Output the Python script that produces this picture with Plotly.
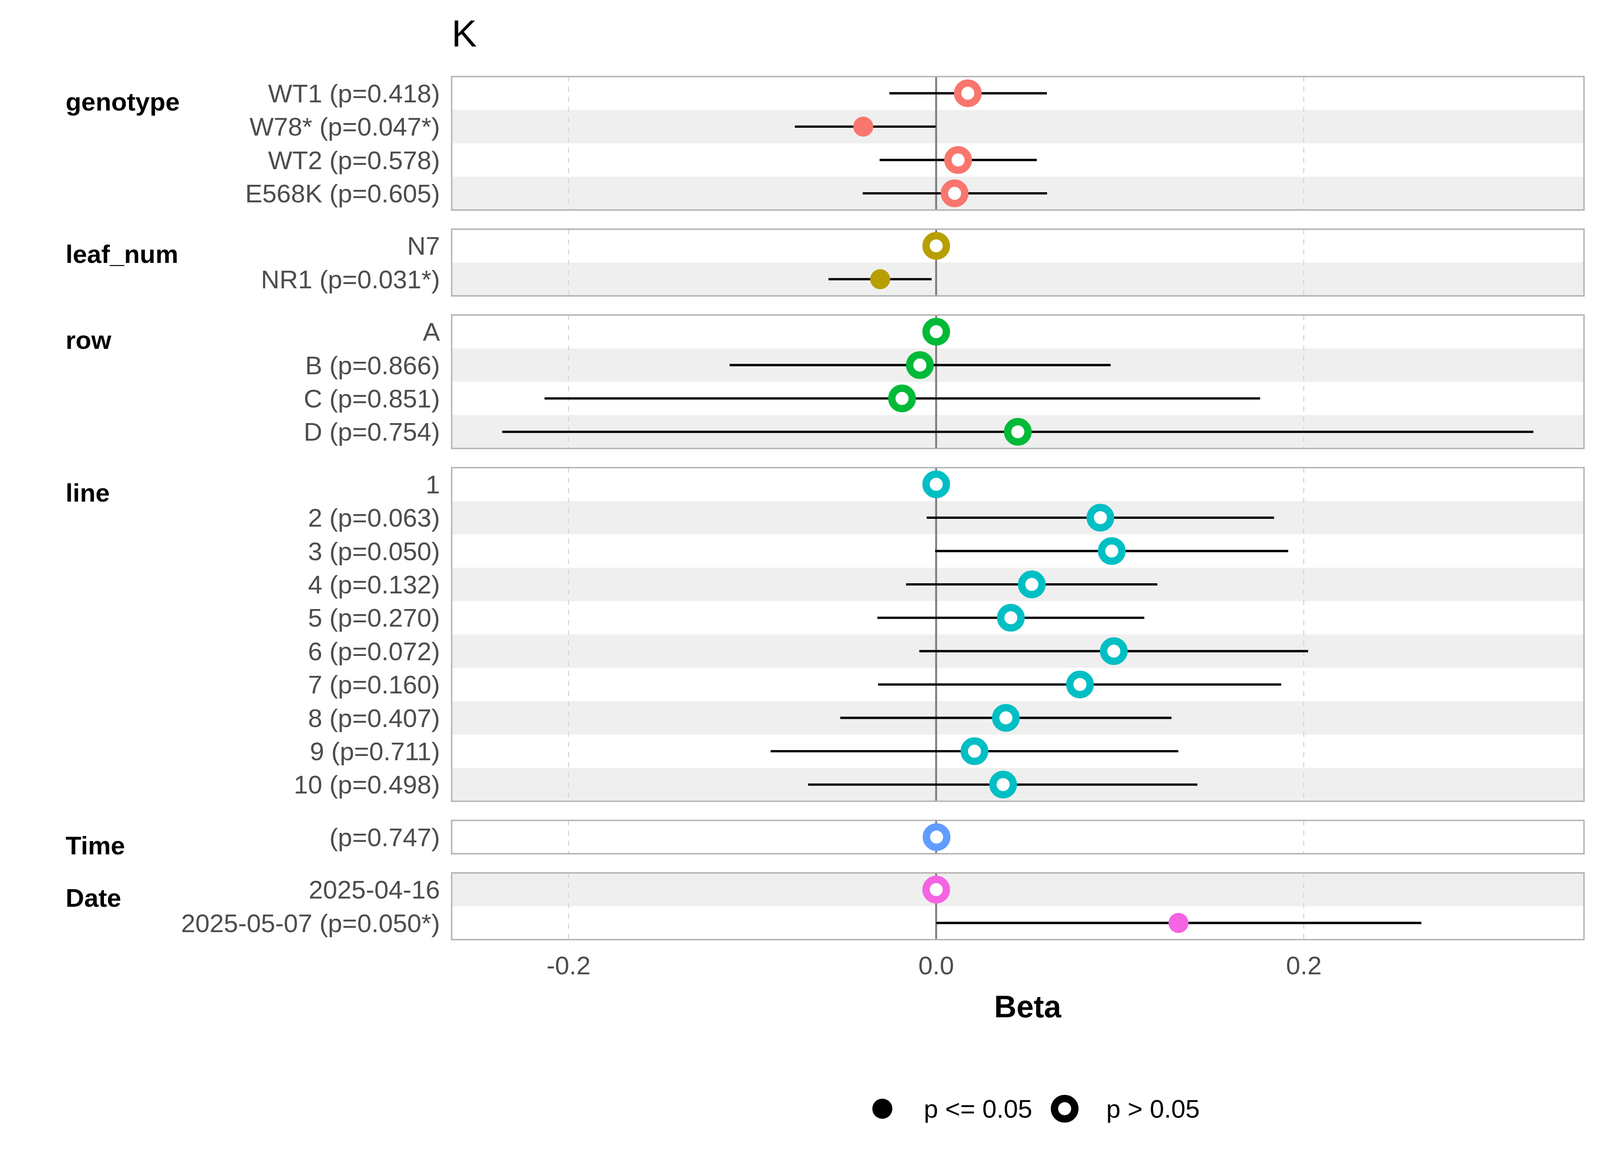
import plotly.graph_objects as go

# ---- data ----
GROUPS = ["genotype", "leaf_num", "row", "line", "Time", "Date"]
GROUP_COLORS = ["#F8766D", "#B79F00", "#00BA38", "#00BFC4", "#619CFF", "#F564E3"]

genotype_levels = ["WT1", "W78*", "WT2", "E568K"]
genotype_beta = [0.0172, -0.0397, 0.0119, 0.0100]
genotype_lo = [-0.0255, -0.0769, -0.0308, -0.0400]
genotype_hi = [0.0602, -0.0003, 0.0547, 0.0603]
genotype_p = [0.418, 0.047, 0.578, 0.605]

leaf_levels = ["N7", "NR1"]
leaf_beta = [0.0, -0.0305]
leaf_lo = [0.0, -0.0586]
leaf_hi = [0.0, -0.0025]
leaf_p = [None, 0.031]

row_levels = ["A", "B", "C", "D"]
row_beta = [0.0, -0.0089, -0.0186, 0.0444]
row_lo = [0.0, -0.1124, -0.2131, -0.2361]
row_hi = [0.0, 0.0949, 0.1762, 0.3249]
row_p = [None, 0.866, 0.851, 0.754]

line_levels = ["1", "2", "3", "4", "5", "6", "7", "8", "9", "10"]
line_beta = [0.0, 0.0893, 0.0955, 0.0520, 0.0406, 0.0966, 0.0782, 0.0379, 0.0208, 0.0364]
line_lo = [0.0, -0.0052, -0.0006, -0.0164, -0.0320, -0.0092, -0.0316, -0.0522, -0.0901, -0.0697]
line_hi = [0.0, 0.1838, 0.1915, 0.1203, 0.1132, 0.2023, 0.1877, 0.1280, 0.1317, 0.1421]
line_p = [None, 0.063, 0.0503, 0.132, 0.270, 0.072, 0.160, 0.407, 0.711, 0.498]

time_levels = [""]
time_beta = [0.0002]
time_lo = [-0.0003]
time_hi = [0.0007]
time_p = [0.747]

date_levels = ["2025-04-16", "2025-05-07"]
date_beta = [0.0, 0.1318]
date_lo = [0.0, 0.0]
date_hi = [0.0, 0.2639]
date_p = [None, 0.0497]

X_RANGE = [-0.2636, 0.3524]
X_TICKS = [-0.2, 0.0, 0.2]
X_TICK_LABELS = ["-0.2", "0.0", "0.2"]
LEGEND_LABELS = ["p <= 0.05", "p > 0.05"]

panels = [
    (genotype_levels, genotype_beta, genotype_lo, genotype_hi, genotype_p),
    (leaf_levels, leaf_beta, leaf_lo, leaf_hi, leaf_p),
    (row_levels, row_beta, row_lo, row_hi, row_p),
    (line_levels, line_beta, line_lo, line_hi, line_p),
    (time_levels, time_beta, time_lo, time_hi, time_p),
    (date_levels, date_beta, date_lo, date_hi, date_p),
]

# ---- layout geometry: positions in reference pixels of a 4800x3000 canvas,
# converted to paper fractions so the figure fills the window ----
W, H = 4800, 3000
SC = 0.9  # size factor for fonts / markers / line widths
FONT = "Liberation Sans, Arial, sans-serif"
PANEL_L, PANEL_R = 1355, 4752
PANEL_TOP = 196
ROW_H = 85.4
GAP = 49
OPEN_SIZE, OPEN_LINE = 58 * SC, 21 * SC
FILLED_SIZE = 57 * SC
TXT = 73 * SC


def fx(px):
    return px / W


def fy(py):
    return 1 - py / H


def suffix(k):
    return "" if k == 1 else str(k)


def make_label(name, p):
    if p is None:
        return name
    star = "*" if p <= 0.05 else ""
    return f"{name} (p={p:.3f}{star})".strip()


fig = go.Figure()
shapes = []
annotations = []

top = PANEL_TOP
global_row = 0
for k, (levels, beta, lo, hi, pvals) in enumerate(panels, start=1):
    n = len(levels)
    bottom = top + n * ROW_H
    labels = [make_label(nm, p) for nm, p in zip(levels, pvals)]
    sig = [p is not None and p <= 0.05 for p in pvals]
    color = GROUP_COLORS[k - 1]
    s = suffix(k)

    fig.add_trace(go.Scatter(
        x=beta, y=labels, mode="markers",
        xaxis=f"x{s}", yaxis=f"y{s}", showlegend=False,
        error_x=dict(type="data", symmetric=False,
                     array=[h - b for h, b in zip(hi, beta)],
                     arrayminus=[b - l for b, l in zip(beta, lo)],
                     color="black", thickness=6.5 * SC, width=0),
        marker=dict(
            symbol="circle", opacity=1,
            size=[FILLED_SIZE if q else OPEN_SIZE for q in sig],
            color=[color if q else "white" for q in sig],
            line=dict(color=color, width=[0 if q else OPEN_LINE for q in sig]),
        ),
    ))

    xa = dict(
        domain=[fx(PANEL_L), fx(PANEL_R)], anchor=f"y{s}", range=X_RANGE,
        tickmode="array", tickvals=X_TICKS, ticktext=X_TICK_LABELS,
        showticklabels=(k == len(panels)),
        ticks="", ticklabelstandoff=22,
        tickfont=dict(family=FONT, size=TXT, color="#4d4d4d"),
        showgrid=True, gridcolor="#d9d9d9", gridwidth=3 * SC, griddash="13px,13px",
        zeroline=True, zerolinecolor="#808080", zerolinewidth=5.5 * SC,
        showline=False,
    )
    if k > 1:
        xa["matches"] = "x"
    fig.layout[f"xaxis{s}"] = xa
    fig.layout[f"yaxis{s}"] = dict(
        domain=[fy(bottom), fy(top)], anchor=f"x{s}", type="category",
        categoryorder="array", categoryarray=labels, range=[n - 0.5, -0.5],
        tickmode="array", tickvals=labels, ticktext=labels,
        showgrid=False, zeroline=False, showline=False, ticks="",
        ticklabelstandoff=29,
        tickfont=dict(family=FONT, size=TXT, color="#4d4d4d"),
    )

    # alternating stripes, counted over all rows
    for i in range(n):
        if global_row % 2 == 1:
            shapes.append(dict(type="rect", xref=f"x{s} domain", yref=f"y{s}",
                               x0=0, x1=1, y0=i - 0.5, y1=i + 0.5,
                               fillcolor="#EFEFEF", line=dict(width=0), layer="below"))
        global_row += 1

    shapes.append(dict(type="rect", xref=f"x{s} domain", yref=f"y{s} domain",
                       x0=0, x1=1, y0=0, y1=1, fillcolor="rgba(0,0,0,0)",
                       line=dict(color="#b3b3b3", width=4 * SC), layer="above"))

    annotations.append(dict(text=f"<b>{GROUPS[k - 1]}</b>", xref="paper", yref="paper",
                            x=fx(194), y=fy(top + 64), xanchor="left", yanchor="middle",
                            showarrow=False, font=dict(family=FONT, size=TXT, color="black")))
    top = bottom + GAP

# title and axis title
annotations.append(dict(text="K", xref="paper", yref="paper", x=fx(1352), y=fy(86),
                        xanchor="left", yanchor="middle", showarrow=False,
                        font=dict(family=FONT, size=108 * SC, color="black")))
annotations.append(dict(text="<b>Beta</b>", xref="paper", yref="paper", x=fx(3084), y=fy(2576),
                        xanchor="center", yanchor="middle", showarrow=False,
                        font=dict(family=FONT, size=88 * SC, color="black")))

# legend drawn on its own small hidden axis so the keys can be full size
LEG_X = [2647, 3194]
LEG_Y = 2838
fig.add_trace(go.Scatter(
    x=LEG_X, y=[LEG_Y, LEG_Y], mode="markers", xaxis="x7", yaxis="y7", showlegend=False,
    hoverinfo="skip",
    marker=dict(symbol="circle", opacity=1, size=[FILLED_SIZE, OPEN_SIZE],
                color=["black", "white"], line=dict(color="black", width=[0, OPEN_LINE])),
))
fig.layout["xaxis7"] = dict(domain=[fx(2500), fx(3700)], range=[2500, 3700], visible=False,
                            anchor="y7", fixedrange=True)
fig.layout["yaxis7"] = dict(domain=[fy(2930), fy(2750)], range=[2930, 2750], visible=False,
                            anchor="x7", fixedrange=True)
for lx, txt in zip(LEG_X, LEGEND_LABELS):
    annotations.append(dict(text=txt, xref="paper", yref="paper", x=fx(lx + 122), y=fy(LEG_Y),
                            xanchor="left", yanchor="middle", showarrow=False,
                            font=dict(family=FONT, size=TXT, color="black")))

fig.update_layout(
    autosize=True, margin=dict(l=0, r=0, t=0, b=0),
    paper_bgcolor="white", plot_bgcolor="white",
    shapes=shapes, annotations=annotations, showlegend=False,
    font=dict(family=FONT),
)

# drop the default body margin so the figure fills the whole window
fix_margin = (
    "document.body.style.margin='0';"
    "document.documentElement.style.overflow='hidden';"
    "Plotly.Plots.resize(document.getElementById('{plot_id}'));"
)
fig.write_html("out.html", default_width="100%", default_height="100vh",
               config={"displayModeBar": False, "responsive": True},
               post_script=fix_margin)
